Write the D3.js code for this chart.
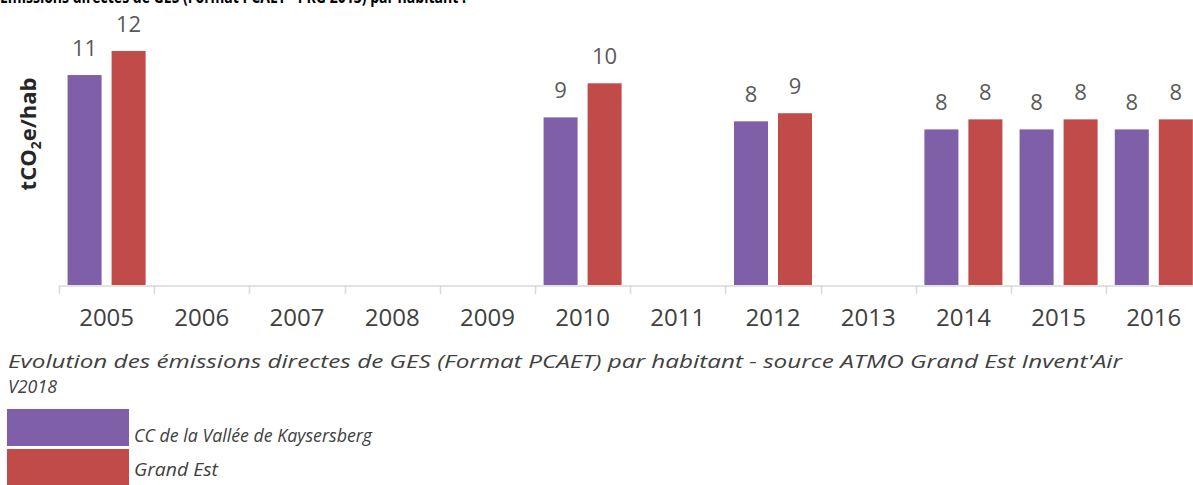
<!DOCTYPE html>
<html>
<head>
<meta charset="utf-8">
<script src="https://cdn.jsdelivr.net/npm/d3@7"></script>
<style>
  html, body { margin: 0; padding: 0; background: #fff; }
  svg { display: block; }
</style>
</head>
<body>
<svg id="chart" width="1193" height="485"></svg>
<script>
// Years on the x axis
const years = ["2005","2006","2007","2008","2009","2010","2011","2012","2013","2014","2015","2016"];
// Series names
const seriesNames = ["CC de la Vallée de Kaysersberg", "Grand Est"];
// Direct GHG emissions per inhabitant (tCO2e/hab); null = no inventory that year
const kaysersberg = [10.66, null, null, null, null, 8.51, null, 8.31, null, 7.90, 7.90, 7.90];
const grandEst    = [11.88, null, null, null, null, 10.24, null, 8.72, null, 8.41, 8.41, 8.41];
const seriesColors = ["#7F60A8", "#C14B48"];

const titleText = "Emissions directes de GES (Format PCAET - PRG 2013) par habitant :";
const captionText = "Evolution des émissions directes  de GES (Format PCAET) par habitant - source ATMO Grand  Est Invent'Air";
const captionText2 = "V2018";

const svg = d3.select("#chart");
const baseY = 285;
const left = 59, step = 95.2;

const x = d3.scaleBand().domain(years).range([left, left + step * years.length]).padding(0);
const xInner = d3.scaleBand().domain([0, 1]).range([0, x.bandwidth()]).paddingInner(0.227).paddingOuter(0.195);
const y = d3.scaleLinear().domain([0, 14.47]).range([baseY, 0]);

// Title (partly cut by the top edge)
svg.append("text")
  .attr("x", 0).attr("y", 3)
  .attr("font-family", "'Open Sans', sans-serif")
  .attr("font-weight", "bold").attr("font-size", 18)
  .attr("textLength", 466).attr("lengthAdjust", "spacingAndGlyphs")
  .attr("fill", "#000")
  .text(titleText);

// Y axis title
const yt = svg.append("text")
  .attr("transform", `translate(36,134) rotate(-90)`)
  .attr("text-anchor", "middle")
  .attr("font-family", "'Open Sans', sans-serif")
  .attr("font-weight", "bold").attr("font-size", 22)
  .attr("fill", "#262626");
yt.append("tspan").text("tCO");
yt.append("tspan").attr("font-size", 14).attr("dy", 5).text("2");
yt.append("tspan").attr("dy", -5).text("e/hab");

// X axis
const xAxis = d3.axisBottom(x).tickSize(0).tickPadding(0);
const gx = svg.append("g").attr("transform", `translate(0,${baseY + 0.5})`).call(xAxis);
gx.select(".domain").attr("stroke", "#d9d9d9").attr("stroke-width", 1.5);
gx.selectAll(".tick text")
  .attr("y", 40)
  .attr("dy", 0)
  .attr("font-family", "'Open Sans', sans-serif")
  .attr("font-size", 24)
  .attr("fill", "#404040");
// category separators
svg.append("g").selectAll("line")
  .data(years)
  .join("line")
  .attr("x1", d => Math.round(x(d)) + 0.5).attr("x2", d => Math.round(x(d)) + 0.5)
  .attr("y1", baseY).attr("y2", baseY + 9)
  .attr("stroke", "#d9d9d9").attr("stroke-width", 1.5);

// Bars
const rows = years.map((yr, i) => ({ year: yr, vals: [kaysersberg[i], grandEst[i]] }));
const groups = svg.append("g").selectAll("g")
  .data(rows)
  .join("g")
  .attr("transform", d => `translate(${x(d.year)},0)`);

const cells = groups.selectAll("g.cell")
  .data(d => d.vals.map((v, k) => ({ v, k })).filter(c => c.v !== null))
  .join("g").attr("class", "cell");

cells.append("rect")
  .attr("x", c => xInner(c.k))
  .attr("width", xInner.bandwidth())
  .attr("y", c => y(c.v))
  .attr("height", c => baseY - y(c.v))
  .attr("fill", c => seriesColors[c.k]);

const fmt = d3.format(".0f");
cells.append("text")
  .attr("x", c => xInner(c.k) + xInner.bandwidth() / 2)
  .attr("y", c => y(c.v) - 19)
  .attr("text-anchor", "middle")
  .attr("font-family", "'Open Sans', sans-serif")
  .attr("font-size", 22)
  .attr("fill", "#595959")
  .text(c => fmt(c.v));

// Caption
svg.append("text")
  .attr("x", 8).attr("y", 368)
  .attr("font-family", "'Open Sans', sans-serif")
  .attr("font-style", "italic").attr("font-size", 18)
  .attr("textLength", 1114).attr("lengthAdjust", "spacingAndGlyphs")
  .attr("fill", "#404040")
  .text(captionText);
svg.append("text")
  .attr("x", 8).attr("y", 393)
  .attr("font-family", "'Open Sans', sans-serif")
  .attr("font-style", "italic").attr("font-size", 18)
  .attr("textLength", 49).attr("lengthAdjust", "spacingAndGlyphs")
  .attr("fill", "#404040")
  .text(captionText2);

// Legend
const legend = svg.append("g").selectAll("g")
  .data(seriesNames)
  .join("g")
  .attr("transform", (d, i) => `translate(7,${409 + i * 40})`);
legend.append("rect")
  .attr("width", 122).attr("height", 37)
  .attr("fill", (d, i) => seriesColors[i]);
legend.append("text")
  .attr("x", 127).attr("y", (d, i) => i === 0 ? 33 : 27)
  .attr("font-family", "'Open Sans', sans-serif")
  .attr("font-style", "italic").attr("font-size", 19)
  .attr("fill", "#404040")
  .attr("textLength", (d, i) => i === 0 ? 238 : 84)
  .attr("lengthAdjust", "spacingAndGlyphs")
  .text(d => d);
</script>
</body>
</html>
